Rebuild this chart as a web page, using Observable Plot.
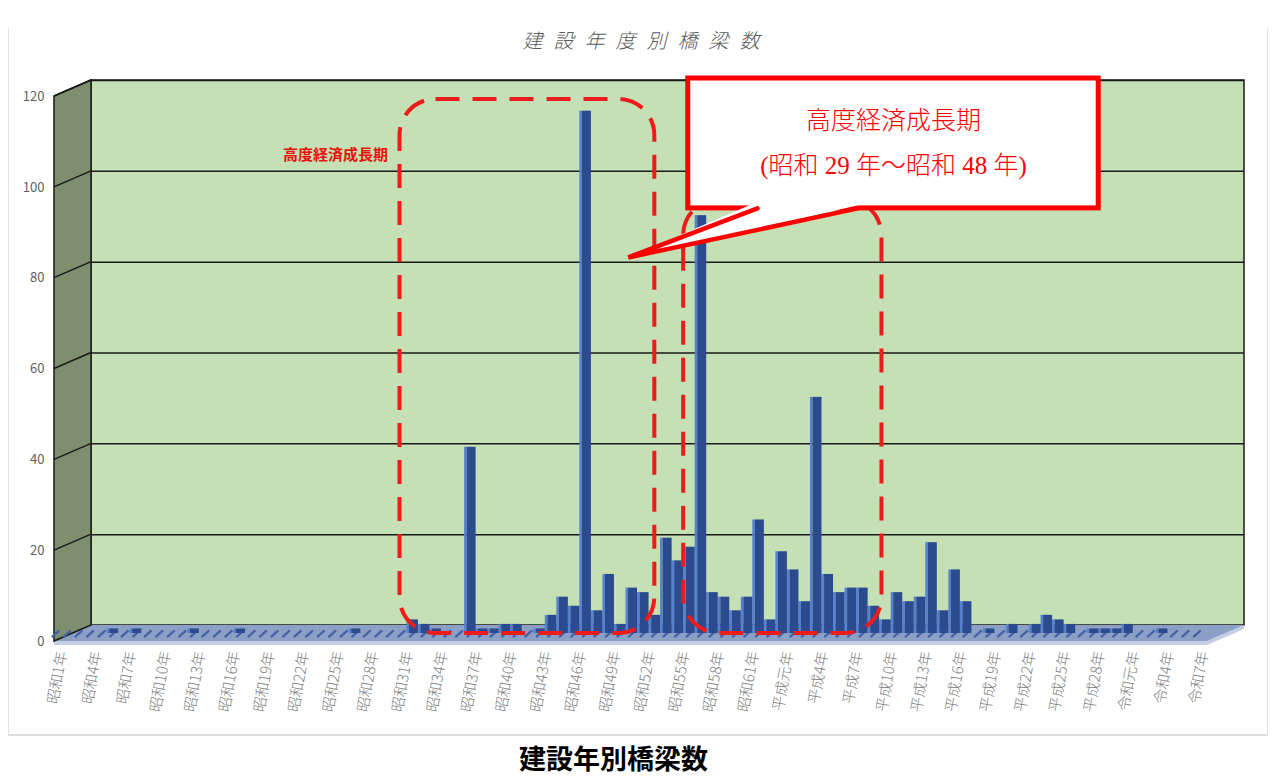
<!DOCTYPE html>
<html><head><meta charset="utf-8">
<script src="https://cdn.jsdelivr.net/npm/d3@7"></script>
<script src="https://cdn.jsdelivr.net/npm/@observablehq/plot@0.6"></script>
<style>
body{margin:0;background:#fff;width:1274px;height:776px;overflow:hidden;position:relative;font-family:"Noto Sans CJK JP","Noto Sans",sans-serif}
#chart{position:absolute;left:0;top:0}
#frame{position:absolute;left:8px;top:28px;width:1258px;height:706px;border-left:1px solid #e2e2e2;border-bottom:2px solid #dedede;border-right:1px solid #e2e2e2}
#title{position:absolute;top:27px;left:0;width:1274px;text-align:center;box-sizing:border-box;padding-left:19px;font-size:20px;line-height:26px;font-style:italic;font-weight:300;letter-spacing:11px;color:#5a5a5a}
#caption{position:absolute;top:743px;left:519px;font-size:27px;line-height:30px;font-weight:700;color:#000;white-space:nowrap}
</style></head>
<body>
<div id="frame"></div>
<div id="chart"></div>
<div id="title">建設年度別橋梁数</div>
<div id="caption">建設年別橋梁数</div>
<script>
// ---- data ----
const eras = [["昭和", 63, false], ["平成", 30, true], ["令和", 7, true]];
const categories = [];
for (const [era, n, gan] of eras) for (let k = 1; k <= n; k++) categories.push(era + (k === 1 && gan ? "元" : k) + "年");

const counts = [
  0,0,0,0,0,1,0,1,0,0,
  0,0,1,0,0,0,1,0,0,0,
  0,0,0,0,0,0,1,0,0,0,
  0,3,2,1,0,0,41,1,1,2,
  2,0,1,4,8,6,115,5,13,2,
  10,9,4,21,16,19,92,9,8,5,
  8,25,3,18,14,7,52,13,9,10,
  10,6,3,9,7,8,20,5,14,7,
  0,1,0,2,0,2,4,3,2,0,
  1,1,1,2,0,0,1,0,0,0
];
const tickIndex = d3.range(0, categories.length, 3);
const yTicks = [0, 20, 40, 60, 80, 100, 120];
const gridValues = [20, 40, 60, 80, 100, 120];
const xDomain = [-0.5, categories.length - 0.5];
const yDomain = [0, 120];

// annotations (in category-index / count units)
const periodBoxes = [
  {x1: 29.9, x2: 52.0, y1: 0, y2: 117.6},
  {x1: 54.5, x2: 71.7, y1: 0, y2: 95.5}
];
const sideLabel = [{x: 24.3, y: 105.3, text: "高度経済成長期"}];
const calloutBox = [{x1: 54.9, x2: 90.5, y1: 93.6, y2: 122.2}];
const pointerFill = [{x: 60.5, y: 94.6}, {x: 49.7, y: 82.8}, {x: 70.2, y: 94.6}];
const pointerSides = [{x: 60.9, y: 93.6}, {x: 49.7, y: 82.8}, {x: 69.6, y: 93.6}];
const calloutText = [
  {x: 72.7, y: 112.8, text: "高度経済成長期"},
  {x: 72.7, y: 102.9, text: "(昭和 29 年〜昭和 48 年)"}
];

// ---- styles ----
const FRONT = {dx: 5, dy: 8};
const BACK = {dx: 42, dy: -8};

const bars = counts.map((v, i) => ({i, cat: categories[i], v, base: 0}));
const nonzero = bars.filter(d => d.v > 0);
const wall = [{x1: xDomain[0], x2: xDomain[1], y1: yDomain[0], y2: yDomain[1]}];

function depthFrame(index, scales) {
  const x = scales.x, y = scales.y;
  const xl = x(xDomain[0]), xr = x(xDomain[1]);
  const y0 = y(0), yt = y(yDomain[1]);
  const g = d3.create("svg:g");
  const P = (px, py, o) => `${px + o.dx},${py + o.dy}`;
  g.append("path")
    .attr("d", `M${P(xl, y0, FRONT)}L${P(xr, y0, FRONT)}L${P(xr, y0, BACK)}L${xr + BACK.dx},${y0 + BACK.dy + 4}L${xr + FRONT.dx},${y0 + FRONT.dy + 4}L${xl + FRONT.dx},${y0 + FRONT.dy + 4}Z`)
    .attr("fill", "#c3cee4");
  g.append("path")
    .attr("d", `M${P(xl, y0, FRONT)}L${P(xr, y0, FRONT)}L${P(xr, y0, BACK)}L${P(xl, y0, BACK)}Z`)
    .attr("fill", "#8c9fc4");
  g.append("path")
    .attr("d", `M${P(xl, y0, FRONT)}L${P(xl, yt, FRONT)}L${P(xl, yt, BACK)}L${P(xl, y0, BACK)}Z`)
    .attr("fill", "#7d8f6e").attr("stroke", "#1a1a1a").attr("stroke-width", 1.5);
  for (const v of gridValues) {
    g.append("line")
      .attr("x1", xl + FRONT.dx).attr("y1", y(v) + FRONT.dy)
      .attr("x2", xl + BACK.dx).attr("y2", y(v) + BACK.dy)
      .attr("stroke", "#1a1a1a").attr("stroke-width", 1.5);
  }
  return g.node();
}

const chart = Plot.plot({
  width: 1274,
  height: 740,
  marginLeft: 49,
  marginRight: 72,
  marginTop: 88,
  marginBottom: 107,
  x: {domain: xDomain},
  y: {domain: yDomain},
  style: {background: "transparent", overflow: "visible", fontFamily: "'Noto Sans CJK JP','Noto Sans',sans-serif"},
  marks: [
    Plot.rect(wall, {x1: "x1", x2: "x2", y1: "y1", y2: "y2", dx: BACK.dx, dy: BACK.dy, fill: "#c5e0b4", stroke: "#1a1a1a", strokeWidth: 1.5}),
    Plot.ruleY(gridValues, {x1: () => xDomain[0], x2: () => xDomain[1], dx: BACK.dx, dy: BACK.dy, stroke: "#1a1a1a", strokeWidth: 1.5}),
    depthFrame,
    Plot.link(bars, {x1: d => d.i - 0.3, x2: d => d.i + 0.35, y1: () => -0.8, y2: () => 0.7, stroke: "#4462a8", strokeWidth: 2.2}),
    Plot.rect(nonzero, {x1: d => d.i - 0.5, x2: d => d.i - 0.28, y1: "base", y2: "v", fill: "#5581d2"}),
    Plot.rect(nonzero, {x1: d => d.i - 0.28, x2: d => d.i + 0.5, y1: "base", y2: "v", fill: "#2c4b8f"}),
    Plot.rect(periodBoxes, {x1: "x1", x2: "x2", y1: "y1", y2: "y2", rx: 36, fill: "none", stroke: "#ee1b1b", strokeWidth: 4, strokeDasharray: "24,13"}),
    Plot.text(sideLabel, {x: "x", y: "y", text: "text", fill: "#e8120f", fontSize: 15, fontWeight: "bold"}),
    Plot.rect(calloutBox, {x1: "x1", x2: "x2", y1: "y1", y2: "y2", fill: "white", stroke: "#ff0000", strokeWidth: 5}),
    Plot.line(pointerFill, {x: "x", y: "y", fill: "white", stroke: "none"}),
    Plot.line(pointerSides, {x: "x", y: "y", stroke: "#ff0000", strokeWidth: 4.5, strokeLinejoin: "miter"}),
    Plot.text(calloutText, {x: "x", y: "y", text: "text", fill: "#ff0000", fontSize: 25, fontWeight: 300, fontFamily: "'Liberation Serif','Noto Sans CJK JP',serif"}),
    Plot.axisY(yTicks, {anchor: "left", tickSize: 0, tickPadding: 5, dy: FRONT.dy, fontSize: 13, fill: "#5f5f5f", label: null}),
    Plot.axisX(tickIndex, {anchor: "bottom", tickSize: 0, tickPadding: 18, tickRotate: -80, dx: 7, fontSize: 15, fontWeight: 300, fill: "#808080", tickFormat: i => categories[i], label: null})
  ]
});
document.getElementById("chart").appendChild(chart);
</script>
</body></html>
